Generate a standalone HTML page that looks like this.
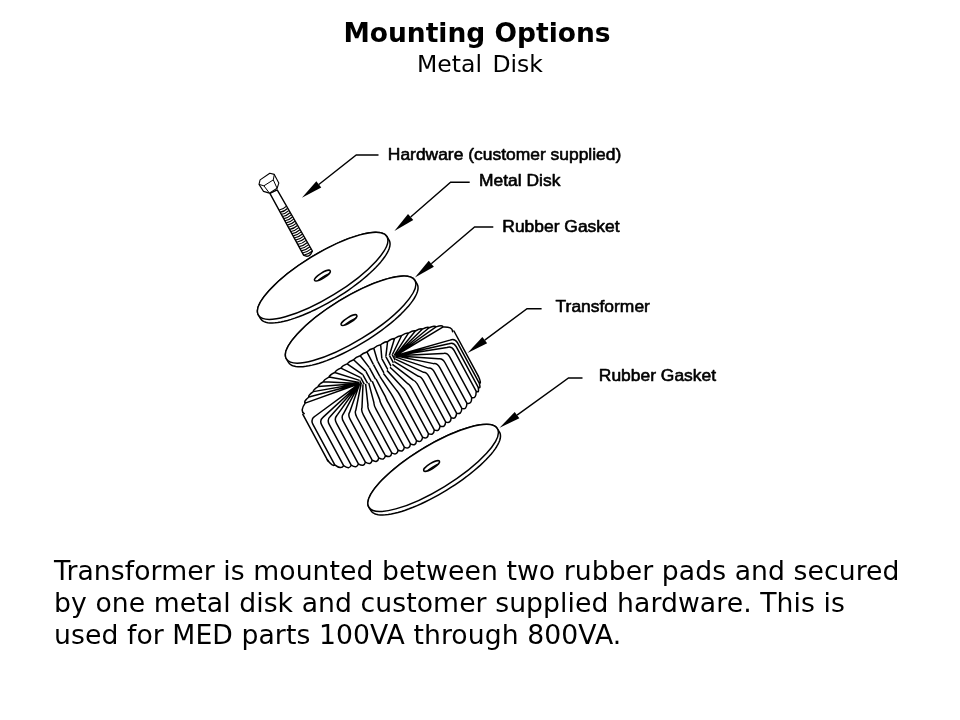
<!DOCTYPE html>
<html lang="en">
<head>
<meta charset="utf-8">
<title>Mounting Options - Metal Disk</title>
<style>
html,body{margin:0;padding:0;background:#fff;}
body{width:960px;height:720px;position:relative;overflow:hidden;font-family:"DejaVu Sans","Liberation Sans",sans-serif;color:#000;}
.abs{position:absolute;white-space:nowrap;line-height:1;will-change:transform;}
#title{left:-3px;width:960px;text-align:center;top:20.2px;font-size:26.5px;font-weight:bold;}
#sub{left:0;width:960px;text-align:center;top:52.6px;font-size:23.5px;word-spacing:3px;}
#body{left:54px;top:554.5px;font-size:26.67px;line-height:32px;letter-spacing:0.07px;}
svg{position:absolute;left:0;top:0;will-change:transform;}
svg text{font-family:"Liberation Sans",sans-serif;font-size:16.7px;fill:#000;stroke:#000;stroke-width:0.6px;stroke-linejoin:round;}
</style>
</head>
<body>
<div id="title" class="abs"><span id="t1">Mounting Options</span></div>
<div id="sub" class="abs"><span id="t2">Metal Disk</span></div>
<div id="body" class="abs"><span id="l1">Transformer is mounted between two rubber pads and secured</span><br><span id="l2">by one metal disk and customer supplied hardware. This is</span><br><span id="l3">used for MED parts 100VA through 800VA.</span></div>
<svg id="diagram" width="960" height="720" viewBox="0 0 960 720">
<path d="M269.9,193.3 L303.6,255.2 Q309.5,258.5 312.4,251 L277.2,189.9 Z" fill="#fff" stroke="#000" stroke-width="1.4" stroke-linejoin="round"/>
<path d="M279.2,210 Q283.2,209.4 286.2,206.4" fill="none" stroke="#000" stroke-width="1.15"/>
<path d="M280.36,212.15 Q284.4,211.54 287.45,208.52" fill="none" stroke="#000" stroke-width="1.15"/>
<path d="M281.52,214.3 Q285.61,213.68 288.7,210.65" fill="none" stroke="#000" stroke-width="1.15"/>
<path d="M282.69,216.46 Q286.81,215.81 289.94,212.77" fill="none" stroke="#000" stroke-width="1.15"/>
<path d="M283.85,218.61 Q288.02,217.95 291.19,214.9" fill="none" stroke="#000" stroke-width="1.15"/>
<path d="M285.01,220.76 Q289.22,220.09 292.44,217.02" fill="none" stroke="#000" stroke-width="1.15"/>
<path d="M286.17,222.91 Q290.43,222.23 293.69,219.14" fill="none" stroke="#000" stroke-width="1.15"/>
<path d="M287.33,225.07 Q291.63,224.37 294.93,221.27" fill="none" stroke="#000" stroke-width="1.15"/>
<path d="M288.5,227.22 Q292.84,226.5 296.18,223.39" fill="none" stroke="#000" stroke-width="1.15"/>
<path d="M289.66,229.37 Q294.04,228.64 297.43,225.51" fill="none" stroke="#000" stroke-width="1.15"/>
<path d="M290.82,231.52 Q295.25,230.78 298.68,227.64" fill="none" stroke="#000" stroke-width="1.15"/>
<path d="M291.98,233.68 Q296.45,232.92 299.92,229.76" fill="none" stroke="#000" stroke-width="1.15"/>
<path d="M293.14,235.83 Q297.66,235.06 301.17,231.89" fill="none" stroke="#000" stroke-width="1.15"/>
<path d="M294.3,237.98 Q298.86,237.2 302.42,234.01" fill="none" stroke="#000" stroke-width="1.15"/>
<path d="M295.47,240.13 Q300.07,239.33 303.67,236.13" fill="none" stroke="#000" stroke-width="1.15"/>
<path d="M296.63,242.29 Q301.27,241.47 304.91,238.26" fill="none" stroke="#000" stroke-width="1.15"/>
<path d="M297.79,244.44 Q302.48,243.61 306.16,240.38" fill="none" stroke="#000" stroke-width="1.15"/>
<path d="M298.95,246.59 Q303.68,245.75 307.41,242.5" fill="none" stroke="#000" stroke-width="1.15"/>
<path d="M300.11,248.74 Q304.89,247.89 308.66,244.63" fill="none" stroke="#000" stroke-width="1.15"/>
<path d="M301.28,250.9 Q306.09,250.02 309.9,246.75" fill="none" stroke="#000" stroke-width="1.15"/>
<path d="M302.44,253.05 Q307.3,252.16 311.15,248.88" fill="none" stroke="#000" stroke-width="1.15"/>
<path d="M303.6,255.2 Q308.5,254.3 312.4,251" fill="none" stroke="#000" stroke-width="1.15"/>
<path d="M260.1,179.9 L269.8,173.3 L274.3,174.4 L278.8,183.1 L277.1,188.3 L269.4,193.1 L263.5,191.4 L259,184.4 Z" fill="#fff" stroke="#000" stroke-width="1.1" stroke-linejoin="round"/>
<path d="M259,184.4 L263.9,185.8 L273.3,179.9 M273.3,179.9 L274.3,174.4 M273.3,179.9 L277.1,188.3 M263.9,185.8 L269.4,193.1" fill="none" stroke="#000" stroke-width="1" stroke-linejoin="round"/>
<path d="M258.45,315.19L257.84,313.89L257.51,312.43L257.45,310.81L257.68,309.03L258.19,307.12L258.97,305.07L260.02,302.9L261.34,300.61L262.93,298.22L264.77,295.73L266.86,293.15L269.18,290.5L271.74,287.79L274.51,285.03L277.49,282.23L280.67,279.4L284.02,276.55L287.54,273.7L291.21,270.87L295.01,268.05L298.93,265.26L302.96,262.53L307.07,259.84L311.24,257.23L315.46,254.7L319.72,252.25L323.98,249.91L328.25,247.68L332.48,245.57L336.68,243.59L340.81,241.75L344.87,240.05L348.83,238.51L352.68,237.13L356.4,235.91L359.98,234.86L363.4,233.99L366.64,233.3L369.69,232.79L372.55,232.47L375.19,232.33L377.6,232.38L379.78,232.61L381.71,233.03L383.39,233.63L384.82,234.41L385.97,235.37L386.85,236.51L389.05,240.09L389.66,241.39L389.99,242.85L390.04,244.48L389.81,246.25L389.31,248.16L388.53,250.21L387.47,252.38L386.15,254.67L384.57,257.06L382.73,259.55L380.64,262.13L378.31,264.78L375.76,267.49L372.98,270.25L370,273.05L366.83,275.88L363.47,278.73L359.96,281.58L356.29,284.42L352.48,287.23L348.56,290.02L344.54,292.76L340.43,295.44L336.25,298.05L332.03,300.58L327.78,303.03L323.51,305.37L319.25,307.6L315.01,309.71L310.82,311.69L306.68,313.53L302.62,315.23L298.66,316.77L294.81,318.15L291.09,319.37L287.51,320.42L284.1,321.29L280.85,321.98L277.8,322.49L274.95,322.81L272.31,322.95L269.89,322.91L267.72,322.67L265.78,322.25L264.1,321.65L262.68,320.87L261.52,319.91L260.64,318.78Z" fill="#fff" stroke="#000" stroke-width="1.5" stroke-linejoin="round"/>
<ellipse cx="322.65" cy="275.85" rx="75.3" ry="21.84" transform="rotate(-31.5 322.65 275.85)" fill="#fff" stroke="#000" stroke-width="1.5"/>
<clipPath id="hc1"><ellipse cx="322.4" cy="275.6" rx="9.2" ry="2.67" transform="rotate(-31.5 322.4 275.6)" /></clipPath>
<g clip-path="url(#hc1)"><ellipse cx="324.59" cy="279.18" rx="9.2" ry="2.67" transform="rotate(-31.5 324.59 279.18)" fill="none" stroke="#000" stroke-width="1.5"/></g>
<ellipse cx="322.4" cy="275.6" rx="9.2" ry="2.67" transform="rotate(-31.5 322.4 275.6)" fill="none" stroke="#000" stroke-width="1.5"/>
<path d="M286.4,358.94L285.79,357.64L285.46,356.18L285.4,354.56L285.63,352.78L286.14,350.87L286.92,348.82L287.97,346.65L289.29,344.36L290.88,341.97L292.72,339.48L294.81,336.9L297.13,334.25L299.69,331.54L302.46,328.78L305.44,325.98L308.62,323.15L311.97,320.3L315.49,317.45L319.16,314.62L322.96,311.8L326.88,309.01L330.91,306.28L335.02,303.59L339.19,300.98L343.41,298.45L347.67,296L351.93,293.66L356.2,291.43L360.43,289.32L364.63,287.34L368.76,285.5L372.82,283.8L376.78,282.26L380.63,280.88L384.35,279.66L387.93,278.61L391.35,277.74L394.59,277.05L397.64,276.54L400.5,276.22L403.14,276.08L405.55,276.13L407.73,276.36L409.66,276.78L411.34,277.38L412.77,278.16L413.92,279.12L414.8,280.26L417.05,283.92L417.66,285.22L417.99,286.69L418.04,288.31L417.82,290.08L417.31,292L416.53,294.04L415.48,296.21L414.15,298.5L412.57,300.9L410.73,303.39L408.64,305.96L406.31,308.61L403.76,311.32L400.98,314.09L398,316.89L394.83,319.72L391.48,322.56L387.96,325.41L384.29,328.25L380.48,331.07L376.56,333.85L372.54,336.59L368.43,339.27L364.26,341.89L360.03,344.42L355.78,346.86L351.51,349.2L347.25,351.43L343.01,353.54L338.82,355.52L334.68,357.37L330.63,359.06L326.66,360.61L322.81,361.99L319.09,363.21L315.52,364.25L312.1,365.12L308.86,365.81L305.8,366.32L302.95,366.65L300.31,366.79L297.9,366.74L295.72,366.51L293.78,366.09L292.1,365.49L290.68,364.7L289.53,363.74L288.64,362.61Z" fill="#fff" stroke="#000" stroke-width="1.5" stroke-linejoin="round"/>
<ellipse cx="350.6" cy="319.6" rx="75.3" ry="21.84" transform="rotate(-31.5 350.6 319.6)" fill="#fff" stroke="#000" stroke-width="1.5"/>
<clipPath id="hc2"><ellipse cx="349" cy="320.1" rx="9.2" ry="2.67" transform="rotate(-31.5 349 320.1)" /></clipPath>
<g clip-path="url(#hc2)"><ellipse cx="351.25" cy="323.77" rx="9.2" ry="2.67" transform="rotate(-31.5 351.25 323.77)" fill="none" stroke="#000" stroke-width="1.5"/></g>
<ellipse cx="349" cy="320.1" rx="9.2" ry="2.67" transform="rotate(-31.5 349 320.1)" fill="none" stroke="#000" stroke-width="1.5"/>
<path d="M302.85,414.41L302.37,413.32L302.07,412.13L301.95,410.85L302.02,409.48L302.27,408.02L302.71,406.47L303.33,404.84L304.13,403.14L305.11,401.36L306.26,399.51L307.59,397.6L309.09,395.63L310.76,393.6L312.59,391.52L314.58,389.4L316.72,387.23L319.01,385.03L321.44,382.81L324.01,380.55L326.72,378.28L329.54,376L332.49,373.7L335.54,371.41L338.7,369.12L341.95,366.83L345.29,364.56L348.71,362.31L352.21,360.09L355.76,357.89L359.37,355.74L363.03,353.62L366.72,351.55L370.44,349.52L374.18,347.56L377.93,345.65L381.69,343.82L385.43,342.05L389.16,340.35L392.86,338.73L396.52,337.19L400.15,335.74L403.72,334.38L407.23,333.11L410.66,331.94L414.03,330.86L417.3,329.89L420.49,329.02L423.57,328.25L426.54,327.59L429.39,327.04L432.13,326.6L434.73,326.27L437.2,326.05L439.53,325.95L441.71,325.95L443.73,326.07L445.6,326.3L447.31,326.65L448.85,327.1L450.22,327.67L451.42,328.34L452.44,329.12L453.29,330L453.95,330.99L479.6,378.51L480.14,379.7L480.49,380.98L480.66,382.36L480.64,383.82L480.44,385.38L480.05,387.02L479.49,388.74L478.74,390.53L477.81,392.4L476.7,394.34L475.41,396.33L473.96,398.39L472.34,400.49L470.55,402.65L468.6,404.84L466.5,407.08L464.24,409.34L461.85,411.63L459.31,413.94L456.64,416.27L453.84,418.61L450.92,420.95L447.89,423.29L444.75,425.62L441.52,427.94L438.19,430.24L434.79,432.51L431.31,434.76L427.76,436.97L424.16,439.14L420.5,441.26L416.81,443.34L413.09,445.36L409.35,447.32L405.59,449.21L401.83,451.03L398.07,452.78L394.33,454.45L390.61,456.04L386.93,457.54L383.28,458.95L379.69,460.27L376.15,461.49L372.69,462.61L369.29,463.63L365.99,464.55L362.77,465.36L359.65,466.06L356.64,466.65L353.74,467.13L350.97,467.49L348.32,467.74L345.81,467.88L343.43,467.9L341.21,467.81L339.13,467.6L337.21,467.28L335.46,466.84L333.86,466.29L332.44,465.64L331.19,464.87L330.11,463.99L329.21,463.01L328.5,461.93Z" fill="#fff" stroke="none"/>
<path d="M302.85,414.41 L328.02,461.05 M453.95,330.99 L478.18,375.87" fill="none" stroke="#000" stroke-width="1.5" stroke-linecap="round"/>
<path d="M327.31,459.73 Q332.55,467.19 334.79,464.79 M359.77,383.45 L314.66,416.49 Q310.32,419.47 312.94,424.31 L334.79,464.79 M334.79,464.79 Q341.23,469.91 343.63,465.7 M359.77,383.45 L322.94,417.34 Q319.17,420.38 321.78,425.22 L343.63,465.7 M343.63,465.7 Q349.64,469.93 351.19,465.12 M359.77,383.45 L330.02,416.8 Q326.73,419.8 329.34,424.64 L351.19,465.12 M351.19,465.12 Q357.08,468.98 358.39,463.87 M359.77,383.45 L336.76,415.63 Q333.93,418.55 336.54,423.39 L358.39,463.87 M358.39,463.87 Q364.19,467.5 365.35,462.2 M359.77,383.45 L343.28,414.07 Q340.89,416.88 343.5,421.72 L365.35,462.2 M365.35,462.2 Q371.08,465.66 372.14,460.21 M359.77,383.45 L349.64,412.2 Q347.68,414.89 350.29,419.73 L372.14,460.21 M372.14,460.21 Q377.81,463.53 378.79,457.97 M361.02,384.26 L355.86,410.1 Q354.33,412.65 356.94,417.49 L378.79,457.97 M378.79,457.97 Q384.41,461.17 385.32,455.51 M362.99,384.42 L361.98,407.8 Q360.86,410.19 363.47,415.03 L385.32,455.51 M385.32,455.51 Q390.89,458.61 391.74,452.86 M365.6,383.93 L367.99,405.32 Q367.28,407.54 369.89,412.38 L391.74,452.86 M391.74,452.86 Q397.28,455.87 398.07,450.03 M368.72,382.82 L373.92,402.67 Q373.61,404.71 376.22,409.55 L398.07,450.03 M398.07,450.03 Q403.57,452.97 404.31,447.05 M372.23,381.13 L379.76,399.88 Q379.85,401.73 382.46,406.57 L404.31,447.05 M404.31,447.05 Q409.77,449.91 410.47,443.92 M375.97,378.94 L385.52,396.95 Q386.01,398.6 388.62,403.44 L410.47,443.92 M410.47,443.92 Q415.89,446.69 416.54,440.63 M379.78,376.34 L391.21,393.87 Q392.08,395.31 394.69,400.15 L416.54,440.63 M416.54,440.63 Q421.93,443.33 422.53,437.2 M383.49,373.44 L396.82,390.65 Q398.07,391.88 400.68,396.72 L422.53,437.2 M422.53,437.2 Q427.88,439.82 428.44,433.61 M386.93,370.38 L402.35,387.3 Q403.98,388.29 406.59,393.13 L428.44,433.61 M428.44,433.61 Q433.75,436.15 434.27,429.87 M389.96,367.28 L407.8,383.8 Q409.8,384.55 412.42,389.39 L434.27,429.87 M434.27,429.87 Q439.54,432.33 440,425.97 M392.45,364.28 L413.17,380.14 Q415.54,380.65 418.15,385.49 L440,425.97 M440,425.97 Q445.23,428.34 445.63,421.89 M394.29,361.52 L418.45,376.32 Q421.17,376.57 423.78,381.41 L445.63,421.89 M445.63,421.89 Q450.82,424.15 451.16,417.61 M395.39,359.11 L423.62,372.32 Q426.7,372.29 429.31,377.13 L451.16,417.61 M451.16,417.61 Q456.29,419.76 456.56,413.11 M395.71,357.16 L428.68,368.11 Q432.1,367.79 434.71,372.63 L456.56,413.11 M456.56,413.11 Q461.64,415.12 461.82,408.34 M395.23,355.75 L433.6,363.64 Q437.35,363.02 439.97,367.86 L461.82,408.34 M461.82,408.34 Q466.82,410.16 466.88,403.22 M395.23,355.75 L438.34,358.85 Q442.42,357.9 445.03,362.74 L466.88,403.22 M466.88,403.22 Q471.79,404.79 471.68,397.63 M395.23,355.75 L442.83,353.61 Q447.21,352.31 449.83,357.15 L471.68,397.63 M471.68,397.63 Q476.48,398.71 476.09,391.15 M395.23,355.75 L446.96,347.54 Q451.63,345.83 454.24,350.67 L476.09,391.15 M476.09,391.15 Q479.57,393.48 478.08,387.09 M395.23,355.75 L448.83,343.74 Q453.62,341.77 456.23,346.61 L478.08,387.09 M478.08,387.09 Q481.16,389.49 479.25,383.2 M395.23,355.75 L449.92,340.1 Q454.79,337.88 457.4,342.72 L479.25,383.2 M479.25,383.2 Q481.79,383.87 478.42,376.31 M304.16,413.68 Q299.79,410.76 305.17,403.12 M359.77,383.45 L305.17,403.12 M305.17,403.12 Q303.42,401.46 308.93,397.03 M359.77,383.45 L308.93,397.03 M308.93,397.03 Q307.8,395.4 313.34,391.63 M359.77,383.45 L313.34,391.63 M313.34,391.63 Q312.7,389.91 318.2,386.58 M359.77,383.45 L318.2,386.58 M318.2,386.58 Q318.01,384.72 323.43,381.74 M359.77,383.45 L323.43,381.74 M323.43,381.74 Q323.67,379.74 328.97,377.07 M359.34,382.45 L328.97,377.07 M328.97,377.07 Q329.63,374.91 334.79,372.54 M359.53,380.36 L334.79,372.54 M334.79,372.54 Q335.86,370.23 340.85,368.14 M360.71,377.68 L340.85,368.14 M340.85,368.14 Q342.33,365.68 347.12,363.87 M362.83,374.55 L347.12,363.87 M347.12,363.87 Q349,361.28 353.58,359.73 M365.75,371.15 L353.58,359.73 M353.58,359.73 Q355.85,357.02 360.19,355.74 M369.32,367.66 L360.19,355.74 M360.19,355.74 Q362.84,352.92 366.92,351.91 M373.34,364.28 L366.92,351.91 M366.92,351.91 Q369.95,348.99 373.76,348.26 M377.6,361.19 L373.76,348.26 M373.76,348.26 Q377.15,345.26 380.65,344.79 M381.85,358.57 L380.65,344.79 M380.65,344.79 Q384.4,341.73 387.59,341.53 M385.85,356.56 L387.59,341.53 M387.59,341.53 Q391.69,338.43 394.55,338.5 M389.4,355.27 L394.55,338.5 M394.55,338.5 Q398.98,335.38 401.51,335.72 M392.29,354.77 L401.51,335.72 M401.51,335.72 Q406.26,332.61 408.44,333.21 M394.36,355.09 L408.44,333.21 M408.44,333.21 Q413.52,330.13 415.34,331.01 M395.23,355.75 L415.34,331.01 M415.34,331.01 Q420.75,328 422.22,329.16 M395.23,355.75 L422.22,329.16 M422.22,329.16 Q427.97,326.28 429.09,327.73 M395.23,355.75 L429.09,327.73 M429.09,327.73 Q435.23,325.06 436,326.87 M395.23,355.75 L436,326.87 M436,326.87 Q442.69,324.58 443.16,326.94 M395.23,355.75 L443.16,326.94 M443.16,326.94 Q452.5,326.46 452.64,331.72" fill="none" stroke="#000" stroke-width="1.5" stroke-linejoin="round" stroke-linecap="round"/>
<clipPath id="holeclip"><path d="M395.23,355.75L395.62,356.56L395.7,357.6L395.47,358.84L394.93,360.26L394.1,361.85L392.98,363.57L391.59,365.39L389.96,367.28L388.12,369.21L386.1,371.15L383.93,373.07L381.66,374.92L379.31,376.68L376.93,378.32L374.55,379.82L372.23,381.13L370,382.25L367.9,383.16L365.96,383.83L364.22,384.26L362.71,384.43L361.45,384.36L360.46,384.03L359.77,383.45L359.38,382.64L359.3,381.6L359.53,380.36L360.07,378.94L360.9,377.35L362.02,375.63L363.41,373.81L365.04,371.92L366.88,369.99L368.9,368.05L371.07,366.13L373.34,364.28L375.69,362.52L378.07,360.88L380.45,359.38L382.77,358.07L385,356.95L387.1,356.04L389.04,355.37L390.78,354.94L392.29,354.77L393.55,354.84L394.54,355.17L395.23,355.75Z"/></clipPath>
<path d="M395.23,355.75L395.62,356.56L395.7,357.6L395.47,358.84L394.93,360.26L394.1,361.85L392.98,363.57L391.59,365.39L389.96,367.28L388.12,369.21L386.1,371.15L383.93,373.07L381.66,374.92L379.31,376.68L376.93,378.32L374.55,379.82L372.23,381.13L370,382.25L367.9,383.16L365.96,383.83L364.22,384.26L362.71,384.43L361.45,384.36L360.46,384.03L359.77,383.45L359.38,382.64L359.3,381.6L359.53,380.36L360.07,378.94L360.9,377.35L362.02,375.63L363.41,373.81L365.04,371.92L366.88,369.99L368.9,368.05L371.07,366.13L373.34,364.28L375.69,362.52L378.07,360.88L380.45,359.38L382.77,358.07L385,356.95L387.1,356.04L389.04,355.37L390.78,354.94L392.29,354.77L393.55,354.84L394.54,355.17L395.23,355.75Z" fill="#fff" stroke="none"/>
<path d="M359.77,383.45 L374.02,409.85 M359.77,383.45 L374.02,409.85 M359.77,383.45 L374.02,409.85 M359.77,383.45 L374.02,409.85 M359.77,383.45 L374.02,409.85 M359.77,383.45 L374.02,409.85 M359.34,382.45 L373.59,408.85 M359.53,380.36 L373.78,406.76 M360.71,377.68 L374.96,404.08 M362.83,374.55 L377.08,400.95 M365.75,371.15 L380,397.55 M369.32,367.66 L383.57,394.06 M373.34,364.28 L387.59,390.68 M377.6,361.19 L391.85,387.59 M381.85,358.57 L396.1,384.97 M385.85,356.56 L400.1,382.96 M389.4,355.27 L403.65,381.67 M392.29,354.77 L406.54,381.17 M394.36,355.09 L408.61,381.49 M395.23,355.75 L409.48,382.15 M395.23,355.75 L409.48,382.15 M395.23,355.75 L409.48,382.15 M395.23,355.75 L409.48,382.15 M395.23,355.75 L409.48,382.15 M395.23,355.75 L409.48,382.15" fill="none" stroke="#000" stroke-width="1.5" clip-path="url(#holeclip)"/>
<path d="M368.9,507.24L368.29,505.94L367.96,504.48L367.9,502.86L368.13,501.08L368.64,499.17L369.42,497.12L370.47,494.95L371.79,492.66L373.38,490.27L375.22,487.78L377.31,485.2L379.63,482.55L382.19,479.84L384.96,477.08L387.94,474.28L391.12,471.45L394.47,468.6L397.99,465.75L401.66,462.92L405.46,460.1L409.38,457.31L413.41,454.58L417.52,451.89L421.69,449.28L425.91,446.75L430.17,444.3L434.43,441.96L438.7,439.73L442.93,437.62L447.13,435.64L451.26,433.8L455.32,432.1L459.28,430.56L463.13,429.18L466.85,427.96L470.43,426.91L473.85,426.04L477.09,425.35L480.14,424.84L483,424.52L485.64,424.38L488.05,424.43L490.23,424.66L492.16,425.08L493.84,425.68L495.27,426.46L496.42,427.42L497.3,428.56L499.5,432.14L500.11,433.44L500.44,434.9L500.49,436.53L500.26,438.3L499.76,440.21L498.98,442.26L497.92,444.43L496.6,446.72L495.02,449.11L493.18,451.6L491.09,454.18L488.76,456.83L486.21,459.54L483.43,462.3L480.45,465.1L477.28,467.93L473.92,470.78L470.41,473.63L466.74,476.47L462.93,479.28L459.01,482.07L454.99,484.81L450.88,487.49L446.7,490.1L442.48,492.63L438.23,495.08L433.96,497.42L429.7,499.65L425.46,501.76L421.27,503.74L417.13,505.58L413.07,507.28L409.11,508.82L405.26,510.2L401.54,511.42L397.96,512.47L394.55,513.34L391.3,514.03L388.25,514.54L385.4,514.86L382.76,515L380.34,514.96L378.17,514.72L376.23,514.3L374.55,513.7L373.13,512.92L371.97,511.96L371.09,510.83Z" fill="#fff" stroke="#000" stroke-width="1.5" stroke-linejoin="round"/>
<ellipse cx="433.1" cy="467.9" rx="75.3" ry="21.84" transform="rotate(-31.5 433.1 467.9)" fill="#fff" stroke="#000" stroke-width="1.5"/>
<clipPath id="hc3"><ellipse cx="431.6" cy="466" rx="9.2" ry="2.67" transform="rotate(-31.5 431.6 466)" /></clipPath>
<g clip-path="url(#hc3)"><ellipse cx="433.79" cy="469.58" rx="9.2" ry="2.67" transform="rotate(-31.5 433.79 469.58)" fill="none" stroke="#000" stroke-width="1.5"/></g>
<ellipse cx="431.6" cy="466" rx="9.2" ry="2.67" transform="rotate(-31.5 431.6 466)" fill="none" stroke="#000" stroke-width="1.5"/>
<path d="M318.8,184.46 L356.25,155 L378.5,155" fill="none" stroke="#000" stroke-width="1.4"/><path d="M301.9,197.75 L321.27,187.6 L316.33,181.31 Z" fill="#000"/>
<path d="M410.65,216.92 L450.6,182.3 L469.7,182.3" fill="none" stroke="#000" stroke-width="1.4"/><path d="M394.4,231 L413.27,219.94 L408.03,213.9 Z" fill="#000"/>
<path d="M431.3,263.7 L474.6,227 L493.3,227" fill="none" stroke="#000" stroke-width="1.4"/><path d="M414.9,277.6 L433.89,266.75 L428.72,260.65 Z" fill="#000"/>
<path d="M484.77,340.1 L527,308.8 L541.6,308.8" fill="none" stroke="#000" stroke-width="1.4"/><path d="M467.5,352.9 L487.15,343.31 L482.39,336.88 Z" fill="#000"/>
<path d="M517.04,415.12 L568.5,378 L582.5,378" fill="none" stroke="#000" stroke-width="1.4"/><path d="M499.6,427.7 L519.38,418.37 L514.7,411.88 Z" fill="#000"/>
<text transform="translate(387.8,159.7) scale(1.045,1)">Hardware (customer supplied)</text>
<text transform="translate(479,186) scale(1.045,1)">Metal Disk</text>
<text transform="translate(502.3,231.9) scale(1.045,1)">Rubber Gasket</text>
<text transform="translate(555.6,312.1) scale(1.045,1)">Transformer</text>
<text transform="translate(598.8,380.9) scale(1.045,1)">Rubber Gasket</text>
</svg>
</body>
</html>
